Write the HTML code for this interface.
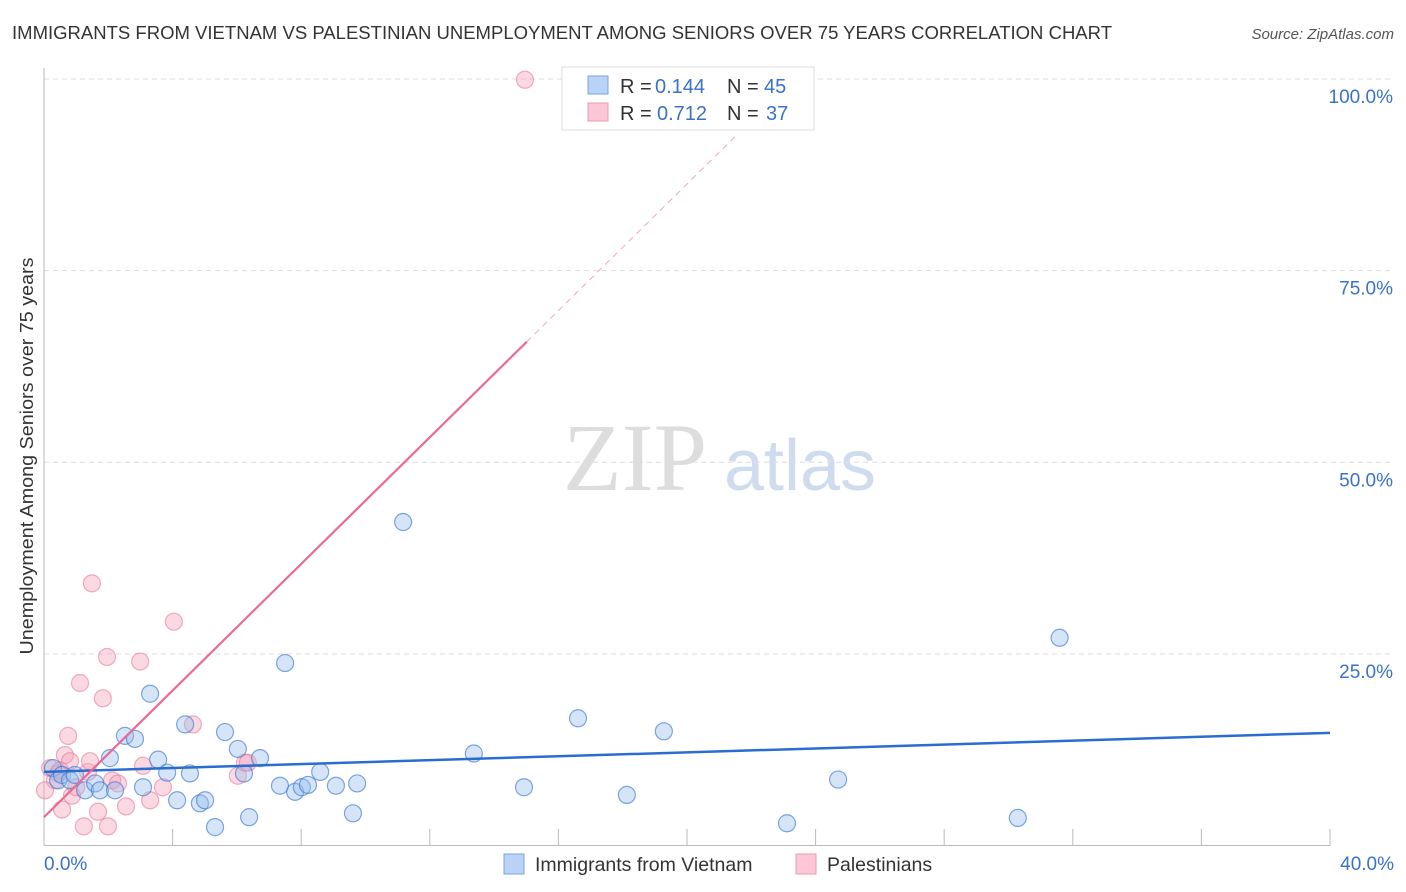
<!DOCTYPE html>
<html><head><meta charset="utf-8"><style>
body{margin:0;background:#fff;font-family:"Liberation Sans",sans-serif;}
svg{display:block}
</style></head><body>
<svg id="chart" width="1406" height="892">
<text x="12" y="39" font-size="18" fill="#333" textLength="1100" lengthAdjust="spacingAndGlyphs">IMMIGRANTS FROM VIETNAM VS PALESTINIAN UNEMPLOYMENT AMONG SENIORS OVER 75 YEARS CORRELATION CHART</text>
<text x="1394" y="39" font-size="15" fill="#555" font-style="italic" text-anchor="end">Source: ZipAtlas.com</text>
<text x="33" y="456" font-size="18" fill="#333" text-anchor="middle" textLength="397" lengthAdjust="spacingAndGlyphs" transform="rotate(-90 33 456)">Unemployment Among Seniors over 75 years</text>
<g>
<text x="635" y="490" font-size="96" fill="#ddd" font-family="Liberation Serif,serif" text-anchor="middle">ZIP</text>
<text x="800" y="490" font-size="72" fill="#cfdcef" text-anchor="middle">atlas</text>
</g>
<g id="grid"></g>
<g id="axes"></g>
<g id="points"></g>
<g id="lines"></g>
<g>
<rect x="562" y="67" width="252" height="63" fill="#fff" stroke="#ddd"/>
<rect x="588" y="76" width="20" height="18" fill="#b8d3f5" stroke="#7aa6e0"/>
<rect x="588" y="103" width="20" height="18" fill="#fcc8d7" stroke="#ec9ab2"/>
<text x="620" y="93" font-size="20" fill="#333">R =</text>
<text x="655" y="93" font-size="20" fill="#3a72c8">0.144</text>
<text x="727" y="93" font-size="20" fill="#333">N =</text>
<text x="764" y="93" font-size="20" fill="#3a72c8">45</text>
<text x="620" y="120" font-size="20" fill="#333">R =</text>
<text x="657" y="120" font-size="20" fill="#3a72c8">0.712</text>
<text x="727" y="120" font-size="20" fill="#333">N =</text>
<text x="766" y="120" font-size="20" fill="#3a72c8">37</text>
</g>
<g>
<rect x="504" y="854" width="20" height="20" fill="#b8d3f5" stroke="#7aa6e0"/>
<text x="535" y="871" font-size="19.5" fill="#333">Immigrants from Vietnam</text>
<rect x="796" y="854" width="20" height="20" fill="#fcc8d7" stroke="#ec9ab2"/>
<text x="827" y="871" font-size="19.5" fill="#333">Palestinians</text>
</g>
<text x="44" y="870" font-size="19" fill="#3a72c8">0.0%</text>
<text x="1394" y="870" font-size="19" fill="#3a72c8" text-anchor="end">40.0%</text>
</svg>
<script>
const yTicks=[25,50,75,100];
const yTickLabels=["25.0%","50.0%","75.0%","100.0%"];
const xTicks=[0,4,8,12,16,20,24,28,32,36,40];
const blueX=[0.28,0.44,0.56,0.81,0.96,1.28,1.59,1.74,2.05,2.21,2.52,2.83,3.08,3.3,3.55,3.83,4.14,4.39,4.54,4.85,5.01,5.32,5.63,6.03,6.22,6.38,6.72,7.34,7.5,7.81,8.02,8.21,8.59,9.08,9.61,9.74,11.17,13.37,14.93,16.61,18.13,19.28,23.11,24.7,30.29,31.59];
const blueY=[10.1,8.5,9.2,8.5,9.2,7.2,8.1,7.2,11.4,7.2,14.3,13.9,7.6,19.8,11.2,9.5,5.9,15.8,9.4,5.5,5.9,2.4,14.8,12.6,9.4,3.7,11.4,7.8,23.8,7.0,7.6,7.9,9.6,7.8,4.2,8.1,42.2,12.0,7.6,16.6,6.6,14.9,2.9,8.6,3.6,27.1];
const pinkX=[0.19,0.34,0.44,0.5,0.65,0.75,0.87,1.0,1.12,1.24,1.37,1.49,1.68,1.83,1.96,1.99,2.12,2.3,2.55,2.99,3.08,3.3,3.7,4.04,4.63,6.03,6.25,6.34,14.96,0.56,0.03,1.43,0.81];
const pinkY=[10.1,8.5,9.4,9.8,11.8,14.3,6.5,7.6,21.2,2.5,9.6,34.2,4.4,19.2,24.6,2.5,8.5,8.1,5.1,24.0,10.4,5.9,7.6,29.2,15.8,9.1,10.8,10.8,99.9,4.7,7.2,11.0,11.0];
const blueLine=[9.6,14.7];
const pinkIntercept=3.7, pinkSlope=4.13;
const X0=44,X1=1330,Y0=845.5,Y1=79;
const sx=v=>X0+(X1-X0)*v/40, sy=v=>Y0-(Y0-Y1)*v/100;
const NS="http://www.w3.org/2000/svg";
function mk(t,p,a){const e=document.createElementNS(NS,t);for(const k in a)e.setAttribute(k,a[k]);p.appendChild(e);return e;}
const grid=document.getElementById('grid'),axes=document.getElementById('axes'),pts=document.getElementById('points'),lines=document.getElementById('lines');
yTicks.forEach((v,i)=>{
 const l=mk('line',grid,{x1:X0,x2:1394,y1:sy(v),y2:sy(v),stroke:'#ddd','stroke-dasharray':'5,4'});
 
 
 const t=mk('text',grid,{x:1393,y:sy(v)+24,'font-size':19,fill:'#3a72c8','text-anchor':'end'});
 t.textContent=yTickLabels[i];
 
 
});
const ya=mk('line',axes,{x1:X0,x2:X0,y1:68,y2:Y0,stroke:'#bbb'});


const xa=mk('line',axes,{x1:X0,x2:X1,y1:Y0,y2:Y0,stroke:'#bbb'});


xTicks.forEach(v=>{
 const t=mk('line',axes,{x1:sx(v),x2:sx(v),y1:829,y2:Y0,stroke:'#bbb'});
 
 
});
pinkX.forEach((x,i)=>{
 const c=mk('circle',pts,{cx:sx(x),cy:sy(pinkY[i]),r:8.5,fill:'rgba(246,160,185,0.4)',stroke:'rgba(233,120,155,0.6)','stroke-width':1.2});
 
 
});
blueX.forEach((x,i)=>{
 const c=mk('circle',pts,{cx:sx(x),cy:sy(blueY[i]),r:8.5,fill:'rgba(150,190,235,0.4)',stroke:'rgba(60,120,210,0.65)','stroke-width':1.2});
 
 
});
const bl=mk('line',lines,{x1:sx(0),y1:sy(blueLine[0]),x2:sx(40),y2:sy(blueLine[1]),stroke:'#2a6dd1','stroke-width':2.5});


const xs=15.02,xe=21.6;
const pl=mk('line',lines,{x1:sx(0),y1:sy(pinkIntercept),x2:sx(xs),y2:sy(pinkIntercept+pinkSlope*xs),stroke:'#ea6a95','stroke-width':2.2});


const pd=mk('line',lines,{x1:sx(xs),y1:sy(pinkIntercept+pinkSlope*xs),x2:sx(xe),y2:sy(pinkIntercept+pinkSlope*xe),stroke:'#f0a8bf','stroke-width':1,'stroke-dasharray':'6,5'});


</script>
</body></html>
